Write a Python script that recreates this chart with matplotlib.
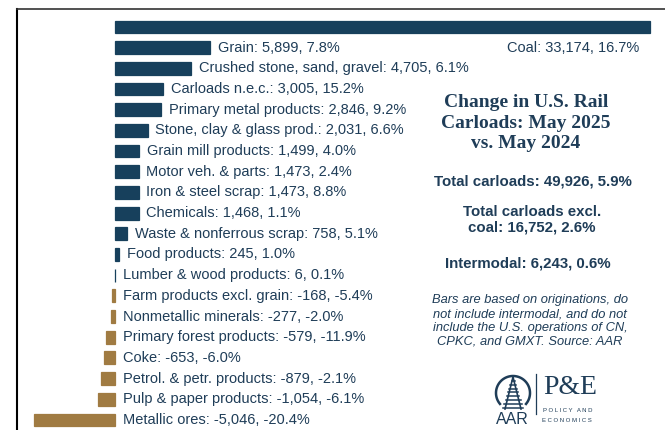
import matplotlib
matplotlib.use("Agg")
import matplotlib.pyplot as plt
from matplotlib.lines import Line2D
import numpy as np

plt.rcParams['font.family'] = ['Liberation Sans', 'DejaVu Sans']

categories = ["Coal", "Grain", "Crushed stone, sand, gravel", "Carloads n.e.c.",
              "Primary metal products", "Stone, clay & glass prod.", "Grain mill products",
              "Motor veh. & parts", "Iron & steel scrap", "Chemicals",
              "Waste & nonferrous scrap", "Food products", "Lumber & wood products",
              "Farm products excl. grain", "Nonmetallic minerals", "Primary forest products",
              "Coke", "Petrol. & petr. products", "Pulp & paper products", "Metallic ores"]
changes = [33174, 5899, 4705, 3005, 2846, 2031, 1499, 1473, 1473, 1468,
           758, 245, 6, -168, -277, -579, -653, -879, -1054, -5046]
pcts = [16.7, 7.8, 6.1, 15.2, 9.2, 6.6, 4.0, 2.4, 8.8, 1.1,
        5.1, 1.0, 0.1, -5.4, -2.0, -11.9, -6.0, -2.1, -6.1, -20.4]

title = "Change in U.S. Rail\nCarloads: May 2025\nvs. May 2024"
summary = ["Total carloads: 49,926, 5.9%",
           "Total carloads excl.\ncoal: 16,752, 2.6%",
           "Intermodal: 6,243, 0.6%"]
note = ("Bars are based on originations, do\nnot include intermodal, and do not\n"
        "include the U.S. operations of CN,\nCPKC, and GMXT. Source: AAR")

NAVY = '#17405c'
GOLD = '#a07b42'
TXT = '#1f3d58'

W, H = 665, 430
fig = plt.figure(figsize=(W / 100, H / 100), dpi=100)

scale = 0.01613  # px per carload
x0 = 115
xmin = -x0 / scale
xmax = (W - x0) / scale
row0, rowstep = 27, 20.68
ytop = -row0 / rowstep
ybot = (H - row0) / rowstep
ax = fig.add_axes([0, 0, 1, 1])
ax.set_xlim(xmin, xmax)
ax.set_ylim(ybot, ytop)
ax.axis('off')

y = np.arange(len(categories))
colors = [NAVY if v >= 0 else GOLD for v in changes]
ax.barh(y, changes, height=0.62, color=colors, edgecolor=colors, linewidth=0.9)

def fmt(v):
    return f"{v:,}"

for i, (c, v, p) in enumerate(zip(categories, changes, pcts)):
    label = f"{c}: {fmt(v)}, {p:.1f}%"
    if i == 0:
        ax.annotate(label, (v, i + 1), xytext=(-8, 0), textcoords='offset points',
                    ha='right', va='center', fontsize=10.5, color=TXT)
        continue
    xpos = max(v, 0)
    ax.annotate(label, (xpos, i), xytext=(5.5, 0), textcoords='offset points',
                ha='left', va='center', fontsize=10.5, color=TXT)

ov = fig.add_axes([0, 0, 1, 1], facecolor='none')
ov.set_xlim(0, W)
ov.set_ylim(H, 0)
ov.axis('off')

ov.add_line(Line2D([17, 17], [9, H], color='black', lw=1.5))
ov.add_line(Line2D([17, W], [9, 9], color='#333333', lw=1.2))

ov.text(526, 123, title, ha='center', va='center', fontsize=14, fontweight='bold',
        family=['Liberation Serif', 'DejaVu Serif'], color=TXT, linespacing=1.3)
ov.text(533, 181, summary[0], ha='center', va='center', fontsize=10.8, fontweight='bold', color=TXT)
ov.text(532, 220, summary[1], ha='center', va='center', fontsize=10.8, fontweight='bold', color=TXT,
        linespacing=1.1)
ov.text(528, 264, summary[2], ha='center', va='center', fontsize=10.8, fontweight='bold', color=TXT)
ov.text(530, 321, note, ha='center', va='center', fontsize=9.3, style='italic', color=TXT,
        linespacing=1.2)

# logo approximation
th = np.linspace(np.deg2rad(-40), np.deg2rad(220), 100)
cx, cy, r = 513, 393, 17
ov.plot(cx + r * np.cos(th), cy - r * np.sin(th), color=TXT, lw=1.8)
ov.plot([513, 505], [377, 409], color=TXT, lw=1.2)
ov.plot([513, 521], [377, 409], color=TXT, lw=1.2)
for k in range(8):
    yy = 381 + k * 3.8
    half = 1.5 + k * 1.2
    ov.plot([513 - half, 513 + half], [yy, yy], color=TXT, lw=1.1)
ov.text(512, 420, "AAR", ha='center', va='center', fontsize=11.5, color=TXT)
ov.add_line(Line2D([536, 536], [374, 414], color=TXT, lw=0.9))
ov.text(570, 388, "P&E", ha='center', va='center', fontsize=20,
        family=['Liberation Serif', 'DejaVu Serif'], color=TXT)
ov.text(568, 411, "P O L I C Y   A N D", ha='center', va='center', fontsize=4.3, color=TXT)
ov.text(567, 420, "E C O N O M I C S", ha='center', va='center', fontsize=4.3, color=TXT)

fig.savefig("out.png", dpi=100)
